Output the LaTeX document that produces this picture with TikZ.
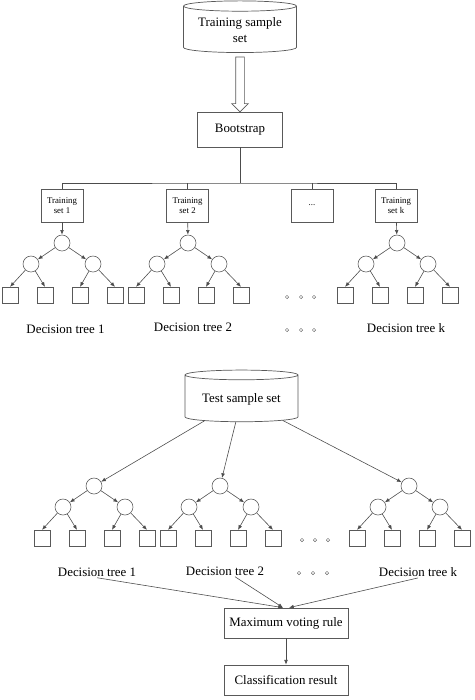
\documentclass[tikz,border=0pt]{standalone}
\usepackage{fontspec}
\setmainfont{Liberation Serif}
\usepackage{tikz}
\usetikzlibrary{shapes.geometric, shapes.arrows, arrows.meta, positioning, calc}

% one decision tree: #1 name of the root, #2 where the root sits
\newcommand{\dectree}[2]{%
  \node[knot] (#1) at (#2) {};
  \node[knot] (#1l) at ($(#1)+(-31,21)$) {};
  \node[knot] (#1r) at ($(#1)+(31,21)$) {};
  \node[leaf] (#1ll) at ($(#1)+(-52,52)$) {};
  \node[leaf] (#1lr) at ($(#1)+(-17,52)$) {};
  \node[leaf] (#1rl) at ($(#1)+(18,52)$) {};
  \node[leaf] (#1rr) at ($(#1)+(53,52)$) {};
  \draw[arr] (#1) -- (#1l);
  \draw[arr] (#1) -- (#1r);
  \draw[arr] (#1l) -- (#1ll.north);
  \draw[arr] (#1l) -- (#1lr.north);
  \draw[arr] (#1r) -- (#1rl.north);
  \draw[arr] (#1r) -- (#1rr.north);
}

\begin{document}
\begin{tikzpicture}[
  x=0.03cm, y=-0.03cm,
  font=\fontsize{11}{13}\selectfont,
  box/.style={rectangle, draw=black!65, line width=0.6pt, align=center,
              inner sep=1pt},
  setbox/.style={box, minimum width=1.26cm, minimum height=0.99cm,
              font=\fontsize{7.5}{8.5}\selectfont},
  store/.style={cylinder, shape border rotate=90, aspect=0.12, draw=black!65,
              line width=0.6pt, minimum width=3.39cm, minimum height=1.55cm,
              align=center, inner sep=1pt},
  knot/.style={circle, draw=black!65, line width=0.5pt, minimum size=0.48cm,
              inner sep=0pt},
  leaf/.style={rectangle, draw=black!65, line width=0.5pt, minimum size=0.47cm,
              inner sep=0pt},
  dot/.style={circle, draw=black!60, line width=0.4pt, minimum size=0.1cm,
              inner sep=0pt},
  lab/.style={inner sep=1pt},
  line/.style={draw=black!70, line width=0.5pt},
  arr/.style={line, -{Latex[length=4pt, width=3.2pt]}},
]
\useasboundingbox (0,0) rectangle (474,700);

% training part
\node[store] (trs) at (240,30) {Training sample\\set};
\node[box, minimum width=2.55cm, minimum height=1.05cm] (boot) at (240,129.5) {Bootstrap};
\node[single arrow, draw=black!65, line width=0.6pt, rotate=-90, inner sep=0.12cm,
      minimum height=1.65cm, single arrow head extend=0.12cm]
      (pass) at ($(trs.south)!0.5!(boot.north)$) {};

\coordinate (split) at (240,183);
\node[setbox] (ts1) at (62,205.5)  {Training\\set 1};
\node[setbox] (ts2) at (187.5,205.5) {Training\\set 2};
\node[setbox] (tsd) at (312,205.5) {...};
\node[setbox] (tsk) at (396,205.5) {Training\\set k};

\draw[line] (boot) -- (split);
\draw[line] (ts1.north) |- (split) -| (tsk.north);
\draw[line] (ts2.north) -- (ts2.north |- split);
\draw[line] (tsd.north) -- (tsd.north |- split);

\dectree{t1}{62,243}
\dectree{t2}{188,243}
\dectree{tk}{397,243}
\draw[arr] (ts1) -- (t1);
\draw[arr] (ts2) -- (t2);
\draw[arr] (tsk) -- (tk);

\foreach \x [count=\i] in {287,301,314} {
  \node[dot] (ud\i) at (\x,297) {};
  \node[dot] (ul\i) at (\x,330) {};
}
\node[lab] (dt1) at (65.5,329) {Decision tree 1};
\node[lab] (dt2) at (193,327)  {Decision tree 2};
\node[lab] (dtk) at (406,328)  {Decision tree k};

% test part
\node[store] (tes) at (241.5,399) {Test sample set};

\dectree{b1}{94,486}
\dectree{b2}{220,486}
\dectree{bk}{409,486}
\draw[arr] (tes) -- (b1);
\draw[arr] (tes) -- (b2);
\draw[arr] (tes) -- (bk);

\foreach \x [count=\i] in {302,315,328} {
  \node[dot] (bd\i) at (\x,540) {};
}
\foreach \x [count=\i] in {299,313,327} {
  \node[dot] (bl\i) at (\x,573) {};
}
\node[lab] (db1) at (97,572)  {Decision tree 1};
\node[lab] (db2) at (225,571) {Decision tree 2};
\node[lab] (dbk) at (418,572) {Decision tree k};

\node[box, minimum width=3.72cm, minimum height=0.9cm] (vote) at (286,623) {Maximum voting rule};
\node[box, minimum width=3.72cm, minimum height=0.9cm] (cls) at (286,680) {Classification result};

\draw[arr] (db1.south) -- ([xshift=-0.09cm]vote.north);
\draw[arr] ([xshift=0.3cm]db2.south) -- ([xshift=-0.09cm]vote.north);
\draw[arr] (dbk.south) -- ([xshift=0.09cm]vote.north);
\draw[arr] (vote) -- (cls);
\end{tikzpicture}
\end{document}
